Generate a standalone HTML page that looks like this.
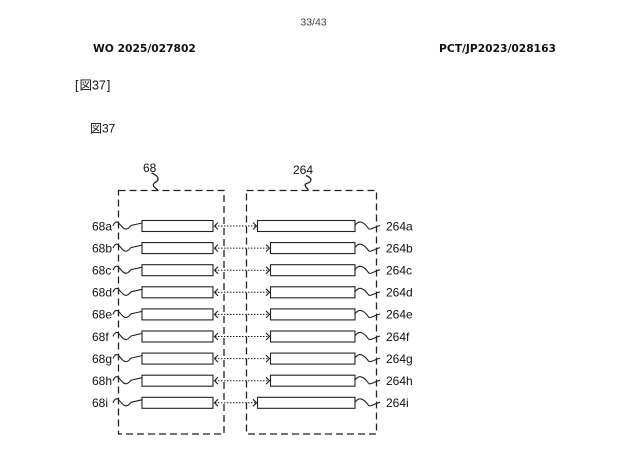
<!DOCTYPE html>
<html><head><meta charset="utf-8"><style>
html,body{margin:0;padding:0;background:#fff;}
body{width:640px;height:462px;overflow:hidden;}
svg{display:block;}
</style></head><body>
<svg width="640" height="462" viewBox="0 0 640 462" xmlns="http://www.w3.org/2000/svg">
<rect width="640" height="462" fill="#fff"/>
<text x="313.5" y="25.5" font-family="Liberation Sans, sans-serif" font-size="10.5" fill="#444" text-anchor="middle">33/43</text>
<text x="93" y="52" font-family="DejaVu Sans, sans-serif" font-weight="bold" font-size="10.7" fill="#111">WO 2025/027802</text>
<text x="556" y="52" font-family="DejaVu Sans, sans-serif" font-weight="bold" font-size="10.7" fill="#111" text-anchor="end">PCT/JP2023/028163</text>
<text x="75" y="89.5" font-family="Liberation Sans, 'Noto Sans CJK JP', sans-serif" font-size="12.5" fill="#111">[<tspan dx="1">図37</tspan><tspan dx="1">]</tspan></text>
<text x="90" y="132.5" font-family="Liberation Sans, 'Noto Sans CJK JP', sans-serif" font-size="12" fill="#111">図37</text>

<g fill="none" stroke="#222" stroke-width="1.3">
<rect x="118.5" y="190.5" width="105.5" height="243.5" stroke-dasharray="7,4"/>
<rect x="246.5" y="190.5" width="130" height="243.5" stroke-dasharray="7,4"/>
<path d="M151.5,173 C159,176 160,180 155,182.5 C151,185 155,188 158,190"/>
<path d="M306,175.5 C313,178 312,182 306.5,183.5 C303,185 307,188 308.5,190"/>
</g>
<g font-family="Liberation Sans, sans-serif" font-size="12" fill="#111">
<text x="143" y="172">68</text>
<text x="293" y="174">264</text>
</g>

<g id="rows" fill="none" stroke="#222" stroke-width="1.1" font-family="Liberation Sans, sans-serif" font-size="12">
</g>
<g fill="none" stroke="#222" stroke-width="1.1">
<!-- rows generated below -->
<g transform="translate(0,226)">
<rect x="142" y="-5.5" width="71" height="11"/><rect x="257.5" y="-5.5" width="97.5" height="11"/>
<path d="M113,0 C114,-3 116,-5 118,-3.5 C121,-1 123,3.5 126.5,3 C129,2.5 130,0.5 131,-0.5 L142,-3"/>
<path d="M355,-0.5 C357,-3.5 359,-5 362,-3.5 C366,-2 367,1 369,3 C371,4 373,1.5 380,-0.5"/>
<polyline points="218,-3.5 214.5,0 218,3.5"/><polyline points="253,-3.5 256.5,0 253,3.5"/>
<line x1="215" y1="0" x2="256" y2="0" stroke-dasharray="1.5,1.5" stroke-width="1"/>
</g>
<g transform="translate(0,248.1)">
<rect x="142" y="-5.5" width="71" height="11"/><rect x="270.5" y="-5.5" width="84.5" height="11"/>
<path d="M113,0 C114,-3 116,-5 118,-3.5 C121,-1 123,3.5 126.5,3 C129,2.5 130,0.5 131,-0.5 L142,-3"/>
<path d="M355,-0.5 C357,-3.5 359,-5 362,-3.5 C366,-2 367,1 369,3 C371,4 373,1.5 380,-0.5"/>
<polyline points="218,-3.5 214.5,0 218,3.5"/><polyline points="266,-3.5 269.5,0 266,3.5"/>
<line x1="215" y1="0" x2="269" y2="0" stroke-dasharray="1.5,1.5" stroke-width="1"/>
</g>
<g transform="translate(0,270.2)">
<rect x="142" y="-5.5" width="71" height="11"/><rect x="270.5" y="-5.5" width="84.5" height="11"/>
<path d="M113,0 C114,-3 116,-5 118,-3.5 C121,-1 123,3.5 126.5,3 C129,2.5 130,0.5 131,-0.5 L142,-3"/>
<path d="M355,-0.5 C357,-3.5 359,-5 362,-3.5 C366,-2 367,1 369,3 C371,4 373,1.5 380,-0.5"/>
<polyline points="218,-3.5 214.5,0 218,3.5"/><polyline points="266,-3.5 269.5,0 266,3.5"/>
<line x1="215" y1="0" x2="269" y2="0" stroke-dasharray="1.5,1.5" stroke-width="1"/>
</g>
<g transform="translate(0,292.3)">
<rect x="142" y="-5.5" width="71" height="11"/><rect x="270.5" y="-5.5" width="84.5" height="11"/>
<path d="M113,0 C114,-3 116,-5 118,-3.5 C121,-1 123,3.5 126.5,3 C129,2.5 130,0.5 131,-0.5 L142,-3"/>
<path d="M355,-0.5 C357,-3.5 359,-5 362,-3.5 C366,-2 367,1 369,3 C371,4 373,1.5 380,-0.5"/>
<polyline points="218,-3.5 214.5,0 218,3.5"/><polyline points="266,-3.5 269.5,0 266,3.5"/>
<line x1="215" y1="0" x2="269" y2="0" stroke-dasharray="1.5,1.5" stroke-width="1"/>
</g>
<g transform="translate(0,314.4)">
<rect x="142" y="-5.5" width="71" height="11"/><rect x="270.5" y="-5.5" width="84.5" height="11"/>
<path d="M113,0 C114,-3 116,-5 118,-3.5 C121,-1 123,3.5 126.5,3 C129,2.5 130,0.5 131,-0.5 L142,-3"/>
<path d="M355,-0.5 C357,-3.5 359,-5 362,-3.5 C366,-2 367,1 369,3 C371,4 373,1.5 380,-0.5"/>
<polyline points="218,-3.5 214.5,0 218,3.5"/><polyline points="266,-3.5 269.5,0 266,3.5"/>
<line x1="215" y1="0" x2="269" y2="0" stroke-dasharray="1.5,1.5" stroke-width="1"/>
</g>
<g transform="translate(0,336.5)">
<rect x="142" y="-5.5" width="71" height="11"/><rect x="270.5" y="-5.5" width="84.5" height="11"/>
<path d="M113,0 C114,-3 116,-5 118,-3.5 C121,-1 123,3.5 126.5,3 C129,2.5 130,0.5 131,-0.5 L142,-3"/>
<path d="M355,-0.5 C357,-3.5 359,-5 362,-3.5 C366,-2 367,1 369,3 C371,4 373,1.5 380,-0.5"/>
<polyline points="218,-3.5 214.5,0 218,3.5"/><polyline points="266,-3.5 269.5,0 266,3.5"/>
<line x1="215" y1="0" x2="269" y2="0" stroke-dasharray="1.5,1.5" stroke-width="1"/>
</g>
<g transform="translate(0,358.6)">
<rect x="142" y="-5.5" width="71" height="11"/><rect x="270.5" y="-5.5" width="84.5" height="11"/>
<path d="M113,0 C114,-3 116,-5 118,-3.5 C121,-1 123,3.5 126.5,3 C129,2.5 130,0.5 131,-0.5 L142,-3"/>
<path d="M355,-0.5 C357,-3.5 359,-5 362,-3.5 C366,-2 367,1 369,3 C371,4 373,1.5 380,-0.5"/>
<polyline points="218,-3.5 214.5,0 218,3.5"/><polyline points="266,-3.5 269.5,0 266,3.5"/>
<line x1="215" y1="0" x2="269" y2="0" stroke-dasharray="1.5,1.5" stroke-width="1"/>
</g>
<g transform="translate(0,380.7)">
<rect x="142" y="-5.5" width="71" height="11"/><rect x="270.5" y="-5.5" width="84.5" height="11"/>
<path d="M113,0 C114,-3 116,-5 118,-3.5 C121,-1 123,3.5 126.5,3 C129,2.5 130,0.5 131,-0.5 L142,-3"/>
<path d="M355,-0.5 C357,-3.5 359,-5 362,-3.5 C366,-2 367,1 369,3 C371,4 373,1.5 380,-0.5"/>
<polyline points="218,-3.5 214.5,0 218,3.5"/><polyline points="266,-3.5 269.5,0 266,3.5"/>
<line x1="215" y1="0" x2="269" y2="0" stroke-dasharray="1.5,1.5" stroke-width="1"/>
</g>
<g transform="translate(0,402.8)">
<rect x="142" y="-5.5" width="71" height="11"/><rect x="257.5" y="-5.5" width="97.5" height="11"/>
<path d="M113,0 C114,-3 116,-5 118,-3.5 C121,-1 123,3.5 126.5,3 C129,2.5 130,0.5 131,-0.5 L142,-3"/>
<path d="M355,-0.5 C357,-3.5 359,-5 362,-3.5 C366,-2 367,1 369,3 C371,4 373,1.5 380,-0.5"/>
<polyline points="218,-3.5 214.5,0 218,3.5"/><polyline points="253,-3.5 256.5,0 253,3.5"/>
<line x1="215" y1="0" x2="256" y2="0" stroke-dasharray="1.5,1.5" stroke-width="1"/>
</g>
</g>

<g font-family="Liberation Sans, sans-serif" font-size="12" fill="#111">
<text x="92" y="230.3">68a</text><text x="386" y="230.3">264a</text>
<text x="92" y="252.4">68b</text><text x="386" y="252.4">264b</text>
<text x="92" y="274.5">68c</text><text x="386" y="274.5">264c</text>
<text x="92" y="296.6">68d</text><text x="386" y="296.6">264d</text>
<text x="92" y="318.7">68e</text><text x="386" y="318.7">264e</text>
<text x="92" y="340.8">68f</text><text x="386" y="340.8">264f</text>
<text x="92" y="362.9">68g</text><text x="386" y="362.9">264g</text>
<text x="92" y="385">68h</text><text x="386" y="385">264h</text>
<text x="92" y="407.1">68i</text><text x="386" y="407.1">264i</text>
</g>
</svg>
</body></html>
